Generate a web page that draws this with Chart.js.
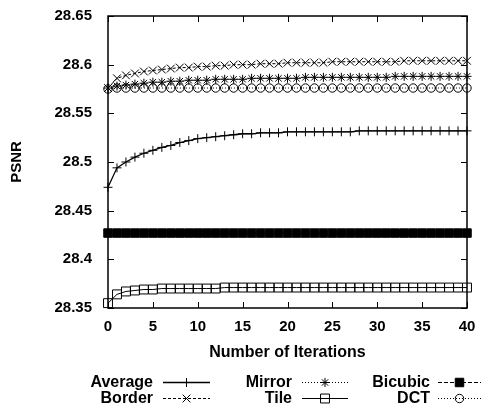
<!DOCTYPE html>
<html><head><meta charset="utf-8">
<script src="https://cdn.jsdelivr.net/npm/chart.js@4/dist/chart.umd.min.js"></script>
<style>html,body{margin:0;padding:0;background:#fff}</style>
</head><body>
<canvas id="c" width="482" height="416"></canvas>
<script>
const iterations = [0,1,2,3,4,5,6,7,8,9,10,11,12,13,14,15,16,17,18,19,20,21,22,23,24,25,26,27,28,29,30,31,32,33,34,35,36,37,38,39,40];
const seriesNames = ['Average','Border','Mirror','Tile','Bicubic','DCT'];
const average = [28.474,28.494,28.500,28.505,28.509,28.512,28.515,28.517,28.520,28.522,28.524,28.525,28.526,28.527,28.528,28.529,28.529,28.530,28.530,28.530,28.531,28.531,28.531,28.531,28.531,28.531,28.531,28.531,28.532,28.532,28.532,28.532,28.532,28.532,28.532,28.532,28.532,28.532,28.532,28.532,28.532];
const border = [28.576,28.586,28.589,28.591,28.593,28.594,28.595,28.596,28.597,28.597,28.598,28.598,28.599,28.599,28.600,28.600,28.600,28.601,28.601,28.601,28.602,28.602,28.602,28.602,28.602,28.603,28.603,28.603,28.603,28.603,28.603,28.603,28.603,28.604,28.604,28.604,28.604,28.604,28.604,28.604,28.604];
const mirror = [28.576,28.578,28.579,28.580,28.581,28.582,28.582,28.583,28.583,28.584,28.584,28.584,28.585,28.585,28.585,28.585,28.586,28.586,28.586,28.586,28.586,28.586,28.587,28.587,28.587,28.587,28.587,28.587,28.587,28.587,28.587,28.587,28.588,28.588,28.588,28.588,28.588,28.588,28.588,28.588,28.588];
const tile = [28.355,28.364,28.367,28.368,28.369,28.369,28.370,28.370,28.370,28.370,28.370,28.370,28.370,28.371,28.371,28.371,28.371,28.371,28.371,28.371,28.371,28.371,28.371,28.371,28.371,28.371,28.371,28.371,28.371,28.371,28.371,28.371,28.371,28.371,28.371,28.371,28.371,28.371,28.371,28.371,28.371];
const bicubic = [28.427,28.427,28.427,28.427,28.427,28.427,28.427,28.427,28.427,28.427,28.427,28.427,28.427,28.427,28.427,28.427,28.427,28.427,28.427,28.427,28.427,28.427,28.427,28.427,28.427,28.427,28.427,28.427,28.427,28.427,28.427,28.427,28.427,28.427,28.427,28.427,28.427,28.427,28.427,28.427,28.427];
const dct = [28.575,28.576,28.576,28.576,28.576,28.576,28.576,28.576,28.576,28.576,28.576,28.576,28.576,28.576,28.576,28.576,28.576,28.576,28.576,28.576,28.576,28.576,28.576,28.576,28.576,28.576,28.576,28.576,28.576,28.576,28.576,28.576,28.576,28.576,28.576,28.576,28.576,28.576,28.576,28.576,28.576];
const xTicks = [0,5,10,15,20,25,30,35,40];
const yTicks = [28.35,28.4,28.45,28.5,28.55,28.6,28.65];

const FONT = '"Liberation Sans", Arial, Helvetica, sans-serif';
const pts = arr => iterations.map((x, i) => ({x: x, y: arr[i]}));

const styles = {
  Average: {data: average, pointStyle: 'cross', pointRadius: 4.5, dash: [], fill: 'rgba(0,0,0,0)', lw: 1.3},
  Border:  {data: border, pointStyle: 'crossRot', pointRadius: 5.5, dash: [3, 2], fill: 'rgba(0,0,0,0)', lw: 1},
  Mirror:  {data: mirror, pointStyle: 'star', pointRadius: 4.5, dash: [1, 2], fill: 'rgba(0,0,0,0)', lw: 1},
  Tile:    {data: tile, pointStyle: 'rect', pointRadius: 6.3, dash: [], fill: 'rgba(0,0,0,0)', lw: 1},
  Bicubic: {data: bicubic, pointStyle: 'rect', pointRadius: 6, dash: [4, 2], fill: '#000', lw: 1},
  DCT:     {data: dct, pointStyle: 'circle', pointRadius: 4.2, dash: [1, 2], fill: 'rgba(0,0,0,0)', lw: 1}
};

const datasets = seriesNames.map(n => {
  const s = styles[n];
  return {
    label: n, data: pts(s.data), borderColor: '#000', borderWidth: s.lw, borderDash: s.dash,
    pointStyle: s.pointStyle, pointRadius: s.pointRadius, pointBorderWidth: 1,
    pointBorderColor: '#000', pointBackgroundColor: s.fill, tension: 0, clip: false, fill: false
  };
});

const framePlugin = {
  id: 'frame',
  beforeDatasetsDraw(chart) {
    const {ctx, chartArea: a, scales: {x, y}} = chart;
    ctx.save();
    ctx.strokeStyle = '#000';
    ctx.lineWidth = 1.5;
    ctx.strokeRect(a.left, a.top, a.right - a.left, a.bottom - a.top);
    ctx.lineWidth = 1;
    const L = 6;
    ctx.beginPath();
    x.ticks.forEach(t => {
      const px = Math.round(x.getPixelForValue(t.value)) + 0.5;
      ctx.moveTo(px, a.bottom); ctx.lineTo(px, a.bottom - L);
      ctx.moveTo(px, a.top); ctx.lineTo(px, a.top + L);
    });
    y.ticks.forEach(t => {
      const py = Math.round(y.getPixelForValue(t.value)) + 0.5;
      ctx.moveTo(a.left, py); ctx.lineTo(a.left + L, py);
      ctx.moveTo(a.right, py); ctx.lineTo(a.right - L, py);
    });
    ctx.stroke();
    ctx.restore();
  }
};

const legendPlugin = {
  id: 'customLegend',
  afterDraw(chart) {
    const ctx = chart.ctx;
    const cols = [{tx: 153, x1: 163, x2: 210}, {tx: 292, x1: 302, x2: 348}, {tx: 430, x1: 438, x2: 481}];
    const rows = [382, 398];
    const order = [['Average', 0, 0], ['Border', 0, 1], ['Mirror', 1, 0], ['Tile', 1, 1], ['Bicubic', 2, 0], ['DCT', 2, 1]];
    ctx.save();
    ctx.font = 'bold 16px ' + FONT;
    ctx.textAlign = 'right';
    ctx.textBaseline = 'middle';
    order.forEach(([name, c, r]) => {
      const col = cols[c], y = rows[r];
      const ds = datasets[seriesNames.indexOf(name)];
      ctx.fillStyle = '#000';
      ctx.fillText(name, col.tx, y + 1);
      ctx.strokeStyle = '#000';
      ctx.lineWidth = ds.borderWidth;
      ctx.setLineDash(ds.borderDash);
      ctx.beginPath();
      ctx.moveTo(col.x1, y + 0.5); ctx.lineTo(col.x2, y + 0.5);
      ctx.stroke();
      ctx.setLineDash([]);
      ctx.lineWidth = 1;
      ctx.fillStyle = ds.pointBackgroundColor;
      Chart.helpers.drawPoint(ctx, {pointStyle: ds.pointStyle, radius: ds.pointRadius, rotation: 0, borderWidth: 1}, (col.x1 + col.x2) / 2, y + 0.5);
    });
    ctx.restore();
  }
};

new Chart(document.getElementById('c'), {
  type: 'line',
  data: {datasets: datasets},
  options: {
    responsive: false,
    animation: false,
    layout: {padding: {left: 0, right: 15, top: 16, bottom: 54}},
    plugins: {legend: {display: false}, tooltip: {enabled: false}},
    elements: {line: {borderCapStyle: 'butt'}},
    scales: {
      x: {
        type: 'linear', min: 0, max: 40,
        afterBuildTicks: s => { s.ticks = xTicks.map(v => ({value: v})); },
        afterFit: s => { s.height = 54; s.paddingLeft = 0; s.paddingRight = 0; },
        grid: {display: false, drawTicks: false},
        border: {display: false},
        ticks: {color: '#000', font: {family: FONT, size: 15, weight: 'bold'}, padding: 10, maxRotation: 0},
        title: {display: true, text: 'Number of Iterations', color: '#000', font: {family: FONT, size: 16, weight: 'bold'}, padding: {top: 0, bottom: 0}}
      },
      y: {
        type: 'linear', min: 28.35, max: 28.65,
        afterBuildTicks: s => { s.ticks = yTicks.map(v => ({value: v})); },
        afterFit: s => { s.width = 108; s.paddingTop = 0; s.paddingBottom = 0; },
        grid: {display: false, drawTicks: false},
        border: {display: false},
        ticks: {color: '#000', font: {family: FONT, size: 15, weight: 'bold'}, padding: 16,
          callback: v => String(Number(v.toFixed(2)))},
        title: {display: true, text: 'PSNR', color: '#000', font: {family: FONT, size: 15, weight: 'bold'}, padding: {top: 8, bottom: 0}}
      }
    }
  },
  plugins: [framePlugin, legendPlugin]
});
</script>
</body></html>
